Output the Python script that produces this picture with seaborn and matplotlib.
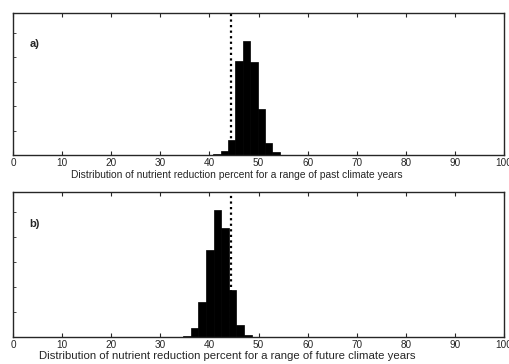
import matplotlib
matplotlib.use('Agg')
import numpy as np
import pandas as pd
import matplotlib.pyplot as plt
import seaborn as sns

# ---------------------------
# Data
# ---------------------------
past_edges = [40.8, 42.3, 43.8, 45.3, 46.8, 48.3, 49.8, 51.3, 52.8, 54.3]
past_counts = [1, 4, 15, 96, 117, 95, 47, 12, 3]

future_edges = [34.7, 36.2, 37.75, 39.3, 40.85, 42.4, 43.95, 45.5, 47.05, 48.6]
future_counts = [1, 9, 35, 87, 127, 109, 47, 12, 2]

threshold = 44.3
xticks = [0, 10, 20, 30, 40, 50, 60, 70, 80, 90, 100]

panels = [
    ("a)", past_edges, past_counts,
     "Distribution of nutrient reduction percent for a range of past climate years"),
    ("b)", future_edges, future_counts,
     "Distribution of nutrient reduction percent for a range of future climate years"),
]

# ---------------------------
# Plot
# ---------------------------
sns.set_style("ticks")
plt.rcParams['font.family'] = ['Liberation Sans', 'DejaVu Sans']

fig = plt.figure(figsize=(5.09, 3.64), dpi=100)
boxes = [[0.0255, 0.574, 0.965, 0.390],
         [0.0255, 0.074, 0.965, 0.399]]
label_size = [7.4, 8.2]
label_x = [0.456, 0.436]
label_y = [-0.105, -0.095]

for i, ((tag, edges, counts, xlabel), box) in enumerate(zip(panels, boxes)):
    ax = fig.add_axes(box)
    e = np.array(edges)
    df = pd.DataFrame({"pct": (e[:-1] + e[1:]) / 2, "n": counts})
    sns.histplot(data=df, x="pct", weights="n", bins=list(edges),
                 color='black', edgecolor='black', alpha=1, linewidth=0.5,
                 ax=ax)
    ax.axvline(threshold, color='black', linestyle=(0, (1, 1.5)), linewidth=1.6)

    ax.set_xlim(0, 100)
    ax.set_ylim(0, 145)
    ax.set_xticks(xticks)
    ax.set_xticklabels([str(t) for t in xticks], fontsize=7.2)
    ax.set_yticks([25, 50, 75, 100, 125])
    ax.set_yticklabels([])
    ax.tick_params(axis='x', direction='in', length=3, width=0.8, top=True,
                   pad=2)
    ax.tick_params(axis='y', direction='in', length=2, width=0.6, right=False)
    ax.set_ylabel("")
    ax.set_xlabel(xlabel, fontsize=label_size[i], labelpad=0)
    ax.xaxis.set_label_coords(label_x[i], label_y[i])
    for s in ax.spines.values():
        s.set_visible(True)
        s.set_linewidth(1.0)
    ax.text(0.033, 0.76, tag, transform=ax.transAxes, fontsize=8,
            fontweight='bold')

fig.savefig("out.png", dpi=100)
plt.close(fig)
